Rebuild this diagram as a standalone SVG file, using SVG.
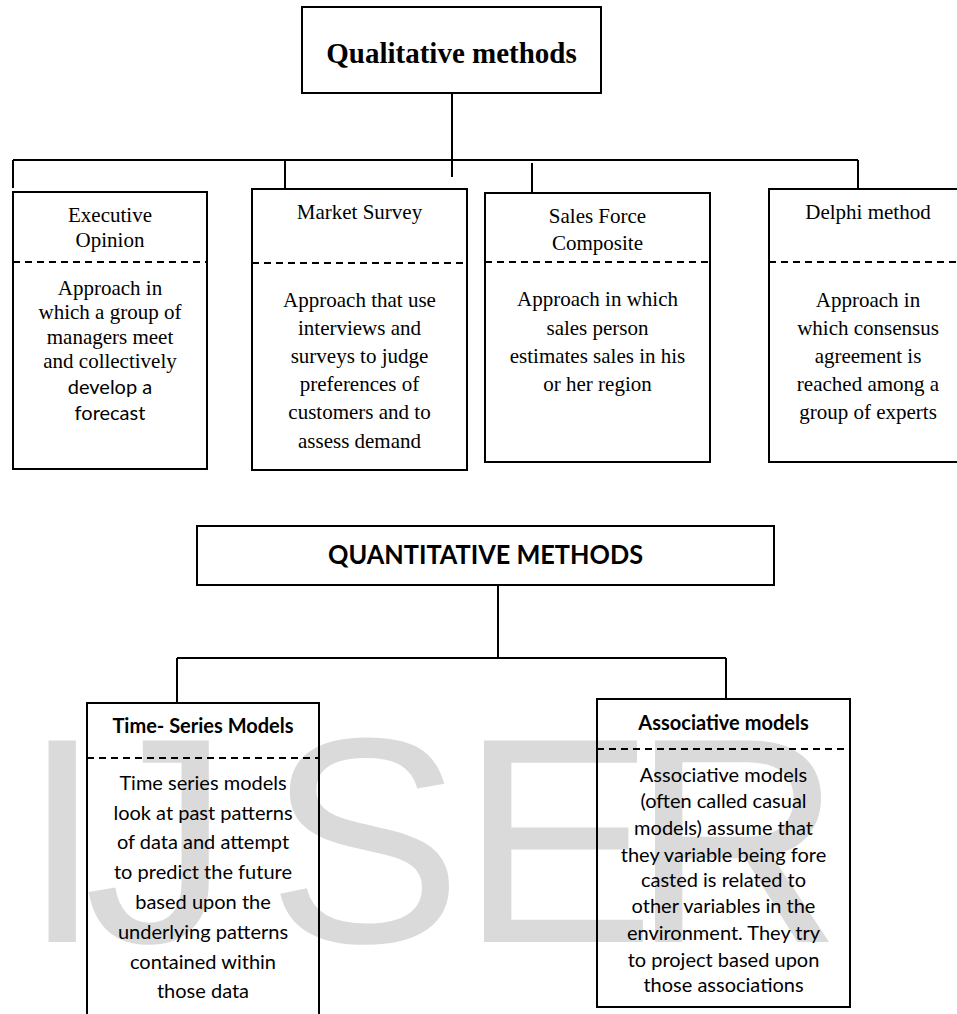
<svg xmlns="http://www.w3.org/2000/svg" width="957" height="1014" viewBox="0 0 957 1014">
<style>
.box{fill:none;stroke:#000;stroke-width:2}
.dash{stroke:#000;stroke-width:2;stroke-dasharray:7 5}
.con{fill:none;stroke:#000;stroke-width:2}
.tr{font-family:"Liberation Serif","Times New Roman",serif;font-size:21px;fill:#000;text-anchor:middle}
.cb{font-family:Lato,"Open Sans",sans-serif;font-size:20px;fill:#000;text-anchor:middle}
.cbb{font-family:Lato,"Open Sans",sans-serif;font-size:20px;font-weight:bold;fill:#000;text-anchor:middle}
.wm{font-family:"Liberation Sans",Arial,sans-serif;font-size:293px;fill:#dadada}
</style>
<rect width="957" height="1014" fill="#fff"/>
<text class="wm" x="21.5 84 267 460 631" y="942">IJSER</text>
<g id="connectors">
<path class="con" d="M452 93V177"/>
<path class="con" d="M13 160H858"/>
<path class="con" d="M13 160V188"/>
<path class="con" d="M285 160V189"/>
<path class="con" d="M532 163V193"/>
<path class="con" d="M858 160V189"/>
<path class="con" d="M498 585V658"/>
<path class="con" d="M177 658H726"/>
<path class="con" d="M177 658V703"/>
<path class="con" d="M726 658V699"/>
</g>
<g id="qualitative">
<rect class="box" x="302" y="7" width="299" height="86"/>
<text x="451.5" y="63" text-anchor="middle" font-family="Liberation Serif,Times New Roman,serif" font-size="29" font-weight="bold">Qualitative methods</text>
</g>
<g id="executive-opinion">
<rect class="box" x="13" y="192" width="194" height="277"/>
<line class="dash" x1="13" y1="262" x2="207" y2="262"/>
<text class="tr" x="110" y="222">Executive</text>
<text class="tr" x="110" y="247">Opinion</text>
<text class="tr" x="110" y="295">Approach in</text>
<text class="tr" x="110" y="319">which a group of</text>
<text class="tr" x="110" y="344">managers meet</text>
<text class="tr" x="110" y="368">and collectively</text>
<text class="cb" x="110" y="394">develop a</text>
<text class="cb" x="110" y="420">forecast</text>
</g>
<g id="market-survey">
<rect class="box" x="252" y="189" width="215" height="281"/>
<line class="dash" x1="252" y1="263" x2="467" y2="263"/>
<text class="tr" x="359.5" y="219">Market Survey</text>
<text class="tr" x="359.5" y="307">Approach that use</text>
<text class="tr" x="359.5" y="335">interviews and</text>
<text class="tr" x="359.5" y="363">surveys to judge</text>
<text class="tr" x="359.5" y="391">preferences of</text>
<text class="tr" x="359.5" y="419">customers and to</text>
<text class="tr" x="359.5" y="448">assess demand</text>
</g>
<g id="sales-force">
<rect class="box" x="485" y="193" width="225" height="269"/>
<line class="dash" x1="485" y1="262" x2="710" y2="262"/>
<text class="tr" x="597.5" y="223">Sales Force</text>
<text class="tr" x="597.5" y="250">Composite</text>
<text class="tr" x="597.5" y="306">Approach in which</text>
<text class="tr" x="597.5" y="335">sales person</text>
<text class="tr" x="597.5" y="363">estimates sales in his</text>
<text class="tr" x="597.5" y="391">or her region</text>
</g>
<g id="delphi">
<rect class="box" x="769" y="189" width="200" height="273"/>
<line class="dash" x1="769" y1="262" x2="957" y2="262"/>
<text class="tr" x="868" y="219">Delphi method</text>
<text class="tr" x="868" y="307">Approach in</text>
<text class="tr" x="868" y="335">which consensus</text>
<text class="tr" x="868" y="363">agreement is</text>
<text class="tr" x="868" y="391">reached among a</text>
<text class="tr" x="868" y="419">group of experts</text>
</g>
<g id="quantitative">
<rect class="box" x="197" y="526" width="577" height="59"/>
<text x="485.5" y="564" text-anchor="middle" font-family="Lato,Open Sans,sans-serif" font-size="26" font-weight="bold" textLength="315" lengthAdjust="spacingAndGlyphs">QUANTITATIVE METHODS</text>
</g>
<g id="time-series">
<rect class="box" x="87" y="703" width="232" height="330"/>
<line class="dash" x1="87" y1="758" x2="319" y2="758"/>
<text class="cbb" x="203" y="733">Time- Series Models</text>
<text class="cb" x="203" y="790">Time series models</text>
<text class="cb" x="203" y="820">look at past patterns</text>
<text class="cb" x="203" y="849">of data and attempt</text>
<text class="cb" x="203" y="879">to predict the future</text>
<text class="cb" x="203" y="909">based upon the</text>
<text class="cb" x="203" y="939">underlying patterns</text>
<text class="cb" x="203" y="969">contained within</text>
<text class="cb" x="203" y="998">those data</text>
</g>
<g id="associative">
<rect class="box" x="597" y="699" width="253" height="308"/>
<line class="dash" x1="597" y1="749" x2="850" y2="749"/>
<text class="cbb" x="723.5" y="730">Associative models</text>
<text class="cb" x="723.5" y="782">Associative models</text>
<text class="cb" x="723.5" y="808">(often called casual</text>
<text class="cb" x="723.5" y="835">models) assume that</text>
<text class="cb" x="723.5" y="862">they variable being fore</text>
<text class="cb" x="723.5" y="887">casted is related to</text>
<text class="cb" x="723.5" y="913">other variables in the</text>
<text class="cb" x="723.5" y="940">environment. They try</text>
<text class="cb" x="723.5" y="967">to project based upon</text>
<text class="cb" x="723.5" y="992">those associations</text>
</g>
</svg>
